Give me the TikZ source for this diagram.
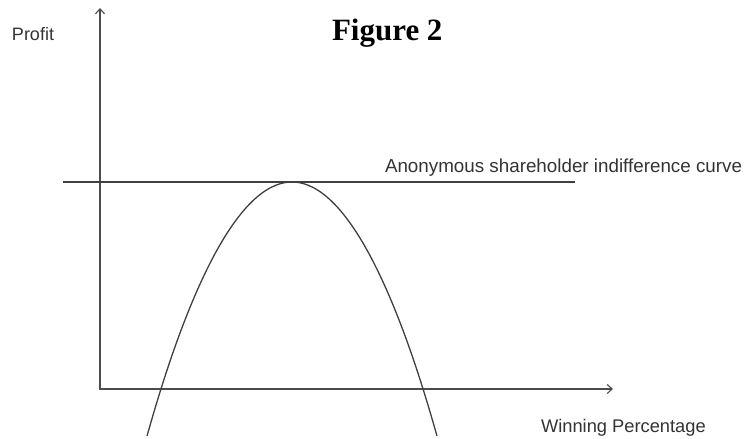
\documentclass[tikz,border=0pt]{standalone}
\usepackage{fontspec}
\setmainfont{Liberation Serif}
\setsansfont{Liberation Sans}
\usetikzlibrary{calc,arrows.meta}

\begin{document}
\begin{tikzpicture}[x=1pt,y=-1pt,
	axis/.style={draw=black!70,line width=1.1pt},
	curve/.style={draw=black!75,line width=1.3pt},
	label/.style={inner sep=0pt,outer sep=0pt,anchor=base west,text=black!80,font=\sffamily},
	>={Straight Barb[length=5pt,width=9pt]}]
	
	\useasboundingbox (0,0) rectangle (745,439);
	
	\coordinate (origin) at (100,389);
	\coordinate (ytip) at (100,8);
	\coordinate (xtip) at (613,389);
	\coordinate (indL) at (63,182);
	\coordinate (indR) at (575,182);
	\coordinate (peak) at (292,182);
	\coordinate (parL) at (147,436);
	\coordinate (parR) at (437,436);
	
	%---------------------------------------------
	
	\draw [axis,<->] (ytip) -- (origin) -- (xtip);
	\draw [curve] (indL) -- (indR);
	\draw [curve] (parL) parabola bend (peak) (parR);
	
	%---------------------------------------------
	
	\node [label,font=\fontsize{18}{20}\sffamily] (profit) at (12,40) {Profit};
	\node [label,font=\fontsize{18.3}{20}\sffamily] (winning) at (541,432) {Winning Percentage};
	\node [label,font=\fontsize{18.8}{20}\sffamily] (indiff) at (385,172) {Anonymous shareholder indifference curve};
	\node [label,text=black,font=\fontsize{31}{34}\selectfont\bfseries] (title) at (332,41) {Figure 2};
	
\end{tikzpicture}
\end{document}
